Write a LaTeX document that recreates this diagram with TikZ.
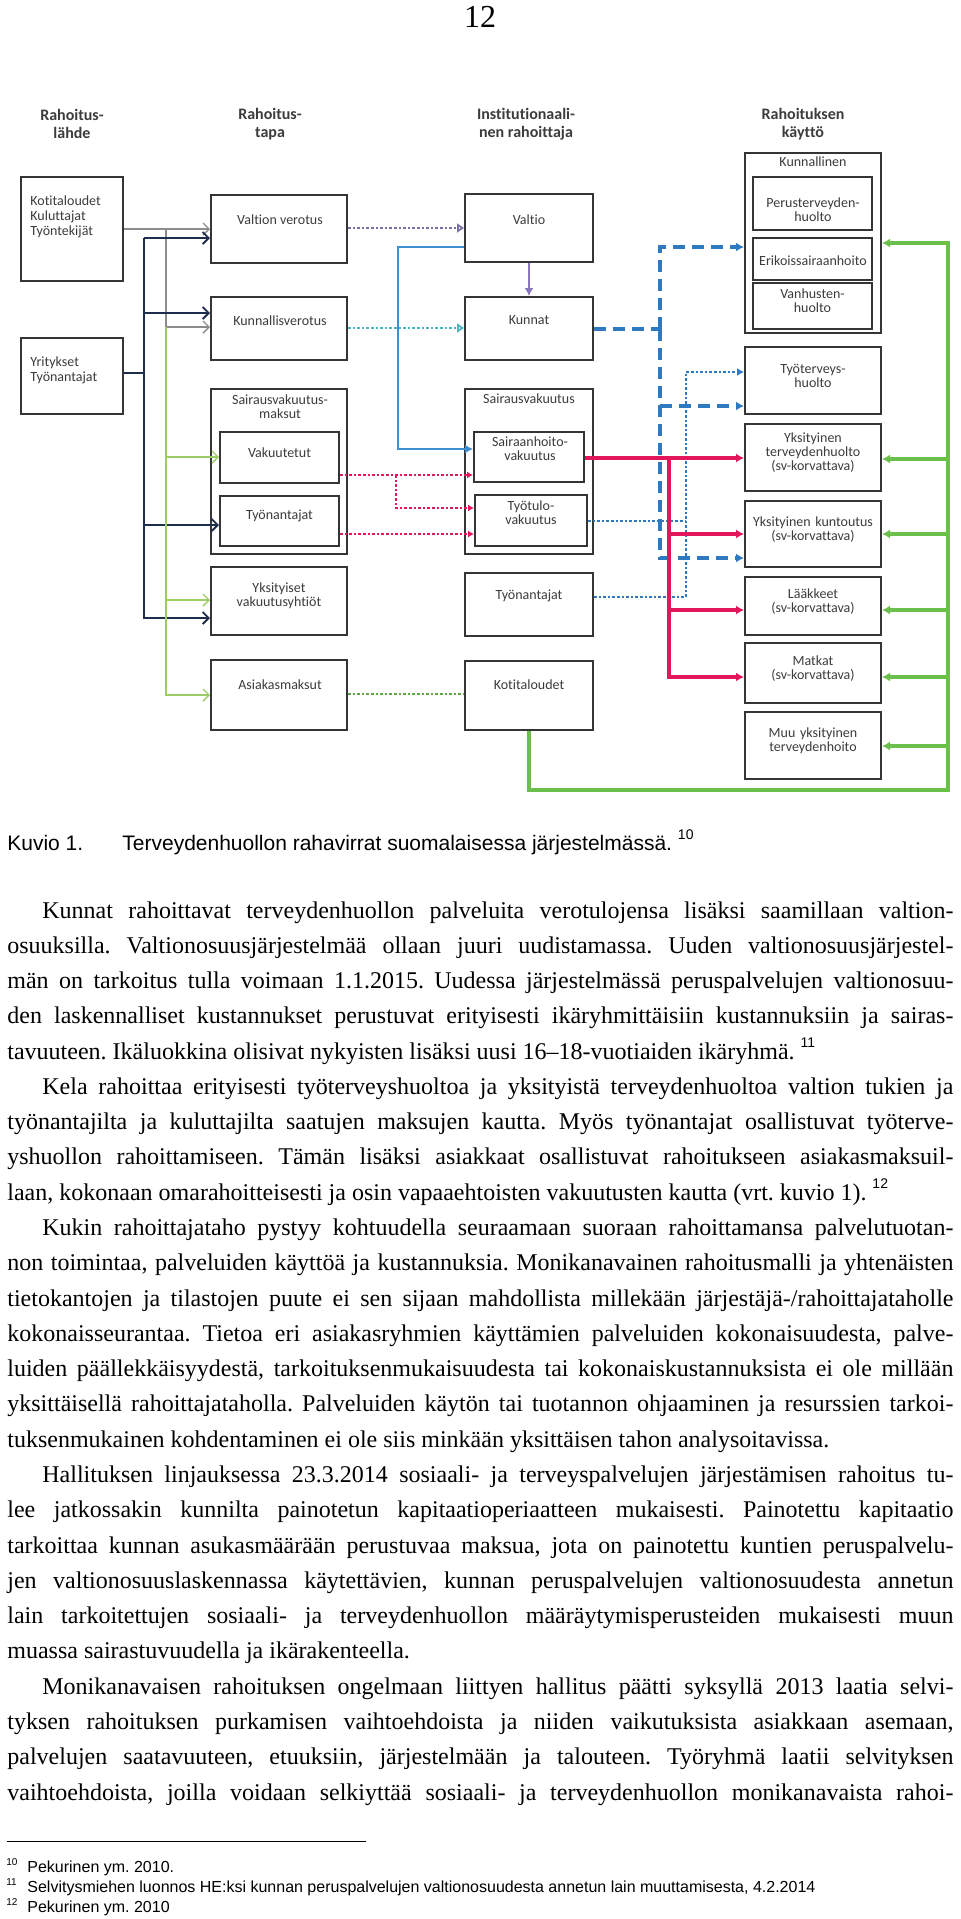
\documentclass[tikz,border=0pt]{standalone}
\usepackage{fontspec}
\setmainfont{Liberation Serif}
\newfontfamily\capfont{Liberation Sans}
\newfontfamily\dgmfont[Ligatures=NoCommon]{Carlito}
\usetikzlibrary{arrows.meta,positioning,fit}
\definecolor{boxline}{HTML}{353535}
\definecolor{dgmtext}{HTML}{3C3C3C}
\definecolor{flowgray}{HTML}{8C8C8C}
\definecolor{flownavy}{HTML}{1F2D4D}
\definecolor{flowlgreen}{HTML}{9CCC65}
\definecolor{flowpurple}{HTML}{7A6FA6}
\definecolor{flowviolet}{HTML}{8A78BD}
\definecolor{flowteal}{HTML}{4CB5C5}
\definecolor{flowblue}{HTML}{3D8FD1}
\definecolor{flowred}{HTML}{E3165B}
\definecolor{flowdblue}{HTML}{2F79C0}
\definecolor{flowgreen}{HTML}{6CBF4A}
\definecolor{flowdgreen}{HTML}{5FA845}

\frenchspacing
\newlength\bodyw
\setlength\bodyw{473pt}
\newcommand\bline[1]{\hbox to\bodyw{#1}}
\newcommand\eline[1]{\hbox to\bodyw{#1\hfil}}
\newcommand\parin{\hspace*{17.5pt}}
\newcommand\fnmark[1]{\raisebox{0.5em}{\capfont\fontsize{7}{7}\selectfont #1}}

\tikzset{
    box/.style={draw=boxline,line width=1pt,inner sep=0pt,fit={#1}},
    lbl/.style={inner sep=0pt,align=center,text=dgmtext,font=\dgmfont\fontsize{7}{7}\selectfont},
    head/.style={inner sep=0pt,align=center,text=dgmtext,font=\dgmfont\bfseries\fontsize{8}{9}\selectfont},
}

\begin{document}
\begin{tikzpicture}[x=0.5pt,y=-0.5pt,
    thinflow/.style={line width=0.7pt,-{Straight Barb[length=3pt,width=6pt]}},
    dotflow/.style={line width=1.3pt,dash pattern=on 1.3pt off 1pt,-{Triangle[open,length=3.5pt,width=4.5pt]}},
    solidflow/.style={line width=1.6pt,-{Latex[length=4pt,width=4.5pt]}},
    dashflow/.style={line width=1.6pt,dash pattern=on 6pt off 3.5pt,-{Latex[length=4pt,width=4.5pt]}},
    captxt/.style={inner sep=0pt,font=\capfont\fontsize{10.5}{10.5}\selectfont},
    fn/.style={inner sep=0pt,font=\capfont\fontsize{8}{8}\selectfont},
    fnm/.style={inner sep=0pt,font=\capfont\fontsize{5}{5}\selectfont}]
    \useasboundingbox (0,0) rectangle (960,1919);
    \fill[white] (0,0) rectangle (960,1919);

    \node[anchor=base,inner sep=0pt,font=\fontsize{16}{16}\selectfont] (sivu) at (480,27) {12};

    % otsikot
    \node[head] (h1) at (72,124) {Rahoitus-\\lähde};
    \node[head] (h2) at (270,124) {Rahoitus-\\tapa};
    \node[head] (h3) at (526,124) {Institutionaali-\\nen rahoittaja};
    \node[head] (h4) at (803,124) {Rahoituksen\\käyttö};

    % rahoituslahde
    \node[box={(21,177) (123,281)}] (koti) {};
    \node[lbl,align=left,anchor=west,font=\dgmfont\fontsize{7}{7.5}\selectfont] (koti-t) at (30,217) {Kotitaloudet\\Kuluttajat\\Työntekijät};
    \node[box={(21,338) (123,414)}] (yrit) {};
    \node[lbl,align=left,anchor=west,font=\dgmfont\fontsize{7}{7.5}\selectfont] (yrit-t) at (30,370) {Yritykset\\Työnantajat};

    % rahoitustapa
    \node[box={(211,195) (347,263)}] (vvero) {};
    \node[lbl] (vvero-t) at (280,220) {Valtion verotus};
    \node[box={(211,297) (347,360)}] (kvero) {};
    \node[lbl] (kvero-t) at (280,321) {Kunnallisverotus};
    \node[box={(211,389) (347,554)}] (svmaksut) {};
    \node[lbl] (svmaksut-t) at (280,407) {Sairausvakuutus-\\maksut};
    \node[box={(220,432) (339,483)},lbl] (vakuutetut) {Vakuutetut};
    \node[box={(220,496) (339,546)},lbl] (tyonant1) {Työnantajat};
    \node[box={(211,567) (347,635)},lbl] (yksvak) {Yksityiset\\vakuutusyhtiöt};
    \node[box={(211,660) (347,730)}] (asiak) {};
    \node[lbl] (asiak-t) at (280,685) {Asiakasmaksut};

    % institutionaalinen rahoittaja
    \node[box={(465,194) (593,262)}] (valtio) {};
    \node[lbl] (valtio-t) at (529,220) {Valtio};
    \node[box={(465,297) (593,360)}] (kunnat) {};
    \node[lbl] (kunnat-t) at (529,320) {Kunnat};
    \node[box={(465,389) (593,554)}] (sv) {};
    \node[lbl] (sv-t) at (529,399) {Sairausvakuutus};
    \node[box={(474,432) (584,482)}] (shv) {};
    \node[lbl] (shv-t) at (530,449) {Sairaanhoito-\\vakuutus};
    \node[box={(475,495) (587,546)}] (ttv) {};
    \node[lbl] (ttv-t) at (531,513) {Työtulo-\\vakuutus};
    \node[box={(465,573) (593,636)}] (tyonant2) {};
    \node[lbl] (tyonant2-t) at (529,596) {Työnantajat};
    \node[box={(465,661) (593,730)}] (koti2) {};
    \node[lbl] (koti2-t) at (529,685) {Kotitaloudet};

    % rahoituksen kaytto
    \node[box={(745,153) (881,333)}] (kunnallinen) {};
    \node[lbl] (kunnallinen-t) at (813,162) {Kunnallinen};
    \node[box={(753,177) (872,230)}] (peru) {};
    \node[lbl] (peru-t) at (813,210) {Perusterveyden-\\huolto};
    \node[box={(753,238) (872,280)}] (erik) {};
    \node[lbl] (erik-t) at (813,261) {Erikoissairaanhoito};
    \node[box={(753,283) (872,329)},lbl] (vanh) {Vanhusten-\\huolto};
    \node[box={(745,347) (881,414)},lbl] (tth) {Työterveys-\\huolto};
    \node[box={(745,424) (881,491)},lbl] (ykst) {Yksityinen\\terveydenhuolto\\(sv-korvattava)};
    \node[box={(745,501) (881,567)},lbl] (yksk) {Yksityinen kuntoutus\\(sv-korvattava)};
    \node[box={(745,577) (881,635)},lbl] (laak) {Lääkkeet\\(sv-korvattava)};
    \node[box={(745,643) (881,703)},lbl] (matk) {Matkat\\(sv-korvattava)};
    \node[box={(745,712) (881,779)},lbl] (muu) {Muu yksityinen\\terveydenhoito};

    % kotitaloudet ja yritykset
    \coordinate (gsplit) at (166,229);
    \coordinate (nv) at (144,238);
    \draw[thinflow,flowgray] (koti.east |- gsplit) -- (vvero.west |- gsplit);
    \draw[thinflow,flowgray] (gsplit) |- (kvero.west |- 0,327);
    \draw[thinflow,flownavy,line width=0.9pt] (nv) -- (vvero.west |- nv);
    \draw[thinflow,flownavy,line width=0.9pt] (nv) |- (yksvak.west |- 0,618);
    \draw[thinflow,flownavy,line width=0.9pt] (nv |- 0,313) -- (kvero.west |- 0,313);
    \draw[thinflow,flownavy,line width=0.9pt] (nv |- 0,525) -- (tyonant1.west |- 0,525);
    \draw[flownavy,line width=0.9pt] (yrit.east |- 0,373) -- (nv |- 0,373);
    \draw[thinflow,flowlgreen] (gsplit |- 0,327) |- (asiak.west |- 0,695);
    \draw[thinflow,flowlgreen] (gsplit |- 0,457) -- (vakuutetut.west |- 0,457);
    \draw[thinflow,flowlgreen] (gsplit |- 0,600) -- (yksvak.west |- 0,600);

    % verot ja maksut
    \draw[dotflow,flowpurple] (vvero.east |- 0,228) -- (valtio.west |- 0,228);
    \draw[dotflow,flowteal] (kvero.east |- 0,328) -- (kunnat.west |- 0,328);
    \draw[dotflow,flowdgreen,-] (asiak.east |- 0,694) -- (koti2.west |- 0,694);
    \draw[solidflow,flowviolet,line width=1.2pt] (valtio.south) -- (kunnat.north);
    \coordinate (bturn) at (398,449);
    \draw[solidflow,flowblue,line width=1.2pt] (valtio.west |- 0,247) -| (bturn) -- (shv.west |- bturn);
    \coordinate (rdot) at (396,475);
    \draw[dotflow,flowred,-{Latex[length=3pt,width=3.5pt]}] (vakuutetut.east |- rdot) -- (shv.west |- rdot);
    \draw[dotflow,flowred,-{Latex[length=3pt,width=3.5pt]}] (rdot) |- (ttv.west |- 0,508);
    \draw[dotflow,flowred,-{Latex[length=3pt,width=3.5pt]}] (tyonant1.east |- 0,534) -- (ttv.west |- 0,534);

    % kunnat
    \coordinate (bd) at (660,329);
    \draw[dashflow,flowdblue,-] (kunnat.east |- bd) -- (bd);
    \draw[dashflow,flowdblue] (bd) |- (kunnallinen.west |- 0,247);
    \draw[dashflow,flowdblue] (bd) |- (yksk.west |- 0,558);
    \draw[dashflow,flowdblue] (bd |- 0,406) -- (tth.west |- 0,406);

    % tyoterveyshuolto
    \coordinate (bdt) at (686,597);
    \draw[dotflow,flowdblue,-] (tyonant2.east |- bdt) -- (bdt);
    \draw[dotflow,flowdblue,-] (ttv.east |- 0,521) -- (bdt |- 0,521);
    \draw[dotflow,flowdblue,-{Latex[length=3.5pt,width=4pt]}] (bdt) |- (tth.west |- 0,372);

    % sairaanhoitovakuutus
    \coordinate (rs) at (669,458);
    \draw[solidflow,flowred] (shv.east |- rs) -- (ykst.west |- rs);
    \draw[solidflow,flowred] (rs) |- (matk.west |- 0,677);
    \draw[solidflow,flowred] (rs |- 0,534) -- (yksk.west |- 0,534);
    \draw[solidflow,flowred] (rs |- 0,610) -- (laak.west |- 0,610);

    % kotitalouksien maksut
    \coordinate (gr) at (948,790);
    \draw[solidflow,flowgreen] (koti2.south) |- (gr) |- (kunnallinen.east |- 0,243);
    \foreach \yy/\nn in {459/ykst,534/yksk,610/laak,677/matk,746/muu}
        \draw[solidflow,flowgreen] (gr |- 0,\yy) -- (\nn.east |- 0,\yy);

    % kuvateksti
    \node[captxt,anchor=base west] (kuvio) at (7,850) {Kuvio 1.};
    \node[captxt,anchor=base west] (kuvio-t) at (122,850) {Terveydenhuollon rahavirrat suomalaisessa järjestelmässä. \fnmark{10}};

    % leipateksti
    \node[anchor=base west,inner sep=0pt,font=\fontsize{12}{17.64}\selectfont] (leipa) at (7,918) {\vtop{
        \bline{\parin Kunnat rahoittavat terveydenhuollon palveluita verotulojensa lisäksi saamillaan valtion-}
        \bline{osuuksilla. Valtionosuusjärjestelmää ollaan juuri uudistamassa. Uuden valtionosuusjärjestel-}
        \bline{män on tarkoitus tulla voimaan 1.1.2015. Uudessa järjestelmässä peruspalvelujen valtionosuu-}
        \bline{den laskennalliset kustannukset perustuvat erityisesti ikäryhmittäisiin kustannuksiin ja sairas-}
        \eline{tavuuteen. Ikäluokkina olisivat nykyisten lisäksi uusi 16–18-vuotiaiden ikäryhmä. \fnmark{11}}
        \bline{\parin Kela rahoittaa erityisesti työterveyshuoltoa ja yksityistä terveydenhuoltoa valtion tukien ja}
        \bline{työnantajilta ja kuluttajilta saatujen maksujen kautta. Myös työnantajat osallistuvat työterve-}
        \bline{yshuollon rahoittamiseen. Tämän lisäksi asiakkaat osallistuvat rahoitukseen asiakasmaksuil-}
        \eline{laan, kokonaan omarahoitteisesti ja osin vapaaehtoisten vakuutusten kautta (vrt. kuvio 1). \fnmark{12}}
        \bline{\parin Kukin rahoittajataho pystyy kohtuudella seuraamaan suoraan rahoittamansa palvelutuotan-}
        \bline{non toimintaa, palveluiden käyttöä ja kustannuksia. Monikanavainen rahoitusmalli ja yhtenäisten}
        \bline{tietokantojen ja tilastojen puute ei sen sijaan mahdollista millekään järjestäjä-/rahoittajataholle}
        \bline{kokonaisseurantaa. Tietoa eri asiakasryhmien käyttämien palveluiden kokonaisuudesta, palve-}
        \bline{luiden päällekkäisyydestä, tarkoituksenmukaisuudesta tai kokonaiskustannuksista ei ole millään}
        \bline{yksittäisellä rahoittajataholla. Palveluiden käytön tai tuotannon ohjaaminen ja resurssien tarkoi-}
        \eline{tuksenmukainen kohdentaminen ei ole siis minkään yksittäisen tahon analysoitavissa.}
        \bline{\parin Hallituksen linjauksessa 23.3.2014 sosiaali- ja terveyspalvelujen järjestämisen rahoitus tu-}
        \bline{lee jatkossakin kunnilta painotetun kapitaatioperiaatteen mukaisesti. Painotettu kapitaatio}
        \bline{tarkoittaa kunnan asukasmäärään perustuvaa maksua, jota on painotettu kuntien peruspalvelu-}
        \bline{jen valtionosuuslaskennassa käytettävien, kunnan peruspalvelujen valtionosuudesta annetun}
        \bline{lain tarkoitettujen sosiaali- ja terveydenhuollon määräytymisperusteiden mukaisesti muun}
        \eline{muassa sairastuvuudella ja ikärakenteella.}
        \bline{\parin Monikanavaisen rahoituksen ongelmaan liittyen hallitus päätti syksyllä 2013 laatia selvi-}
        \bline{tyksen rahoituksen purkamisen vaihtoehdoista ja niiden vaikutuksista asiakkaan asemaan,}
        \bline{palvelujen saatavuuteen, etuuksiin, järjestelmään ja talouteen. Työryhmä laatii selvityksen}
        \bline{vaihtoehdoista, joilla voidaan selkiyttää sosiaali- ja terveydenhuollon monikanavaista rahoi-}
    }};

    % alaviitteet
    \draw[line width=0.5pt] (7,1841) -- (366,1841);
    \node[fnm,anchor=base west] (fm10) at (6,1865) {10};
    \node[fn,anchor=base west] (fn10) at (27,1872) {Pekurinen ym. 2010.};
    \node[fnm,anchor=base west] (fm11) at (6,1885) {11};
    \node[fn,anchor=base west] (fn11) at (27,1892) {Selvitysmiehen luonnos HE:ksi kunnan peruspalvelujen valtionosuudesta annetun lain muuttamisesta, 4.2.2014};
    \node[fnm,anchor=base west] (fm12) at (6,1905) {12};
    \node[fn,anchor=base west] (fn12) at (27,1912) {Pekurinen ym. 2010};
\end{tikzpicture}
\end{document}
